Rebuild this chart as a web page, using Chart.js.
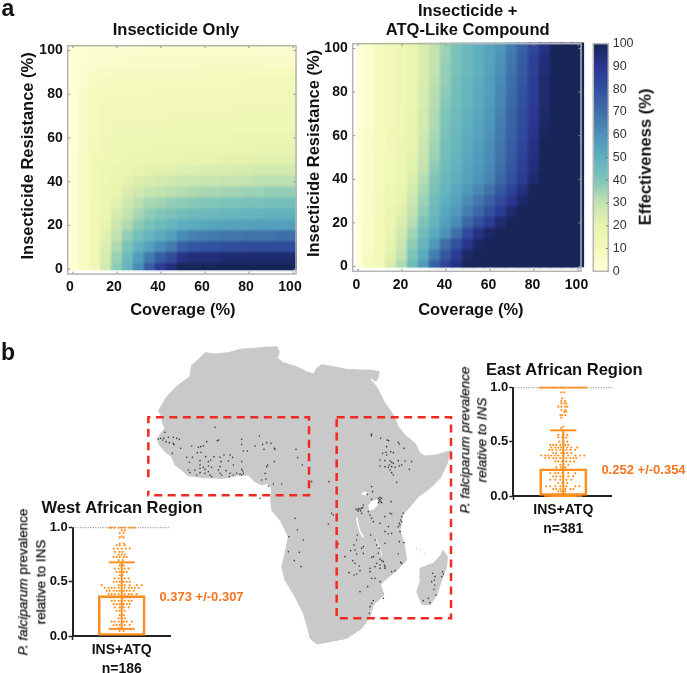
<!DOCTYPE html>
<html><head><meta charset="utf-8">
<script src="https://cdn.jsdelivr.net/npm/chart.js@4"></script>
<style>
html,body{margin:0;padding:0;background:#fff;width:687px;height:673px;overflow:hidden}
canvas{position:absolute;filter:blur(0.5px)}
.t{position:absolute;white-space:nowrap;font-family:"Liberation Sans",Arial,sans-serif;color:#111;transform:translate(-50%,-50%);line-height:1;filter:blur(0.3px)}
.r{transform:translate(-50%,-50%) rotate(-90deg)}
.m{-webkit-text-stroke:0.25px #111}
</style></head><body>
<div class="t" style="left:8px;top:8px;font-size:23px;font-weight:bold">a</div>
<div class="t" style="left:8px;top:352px;font-size:23px;font-weight:bold">b</div>
<div class="t r" style="left:645px;top:157px;font-size:16.5px;font-weight:bold">Effectiveness (%)</div>
<div class="t r m" style="left:23px;top:582px;font-size:13.5px"><i>P. falciparum</i> prevalence</div>
<div class="t r m" style="left:40.7px;top:582px;font-size:13.5px">relative to INS</div>
<div class="t r m" style="left:465px;top:440px;font-size:13.5px;font-style:italic">P. falciparum prevalence</div>
<div class="t r m" style="left:481.7px;top:440px;font-size:13.5px;font-style:italic">relative to INS</div>
<div class="t" style="left:201.5px;top:596px;font-size:13px;font-weight:bold;color:#f5741e">0.373 +/-0.307</div>
<div class="t" style="left:643.5px;top:469px;font-size:13px;font-weight:bold;color:#f5741e">0.252 +/-0.354</div>
<script>
// ---------- heat map axes ----------
const coverage = [0,5,10,15,20,25,30,35,40,45,50,55,60,65,70,75,80,85,90,95,100];
const resistance = [0,5,10,15,20,25,30,35,40,45,50,55,60,65,70,75,80,85,90,95,100];
const effectivenessStops = [[0,'#ffffd9'],[10,'#f3f9b9'],[20,'#e8f4ae'],[30,'#c4e3b0'],[40,'#7fc5b8'],[50,'#5fb0bf'],[60,'#4c93ba'],[70,'#3f6fa8'],[80,'#31519f'],[90,'#2b3590'],[100,'#172559']];

// effectiveness, one row per resistance level (0 to 100), one value per coverage level
const insecticideOnly = [
[2,7,12,26,38,48,62,76,88,94,100,100,100,100,100,100,100,100,100,100,100],
[2,7,12,25,36,45,57,67,76,82,92,94,95,95,96,96,96,96,96,96,96],
[2,7,12,24,33,41,49,56,62,67,75,78,79,80,81,81,82,82,82,82,82],
[2,7,12,22,30,37,43,48,52,56,62,65,66,67,68,68,69,69,69,70,70],
[2,7,12,20,28,33,38,42,45,48,51,52,53,54,54,55,55,56,56,56,56],
[2,7,12,18,25,30,34,38,40,42,44,45,46,46,47,47,48,48,49,49,49],
[2,7,12,17,22,27,31,34,35,37,38,39,40,40,41,41,42,42,43,43,43],
[2,7,11,16,20,24,27,29,30,31,32,33,34,34,35,35,36,36,37,37,37],
[2,7,11,15,18,21,23,25,26,27,28,28,29,29,30,30,30,31,31,31,31],
[2,7,11,14,16,18,20,21,22,22,23,23,24,24,24,25,25,26,26,26,26],
[2,7,11,13,15,16,17,18,18,19,19,20,20,20,21,21,21,22,22,22,22],
[2,6,10,12,14,14,15,15,16,16,16,17,17,17,18,18,18,19,19,19,19],
[2,6,10,12,13,13,13,14,14,14,14,15,15,15,15,16,16,16,16,16,16],
[2,6,9,11,12,12,12,12,12,13,13,13,13,13,14,14,14,14,14,14,14],
[2,6,9,11,11,11,11,11,11,12,12,12,12,12,12,12,13,13,13,13,13],
[2,5,8,10,10,10,10,10,11,11,11,11,11,11,11,12,12,12,12,12,12],
[1,5,8,9,9,9,9,9,10,10,10,10,10,10,10,11,11,11,11,11,11],
[1,4,7,8,8,8,8,8,8,9,9,9,9,9,9,9,10,10,10,10,10],
[1,3,5,6,7,7,7,7,7,7,7,7,8,8,8,8,8,8,8,8,8],
[1,2,3,4,4,5,5,5,5,5,5,5,6,6,6,6,6,6,5,5,5],
[1,2,3,3,3,3,3,4,4,4,4,4,4,4,4,4,4,4,3,3,3]];
const insecticideAtq = [
[1,8,12,24,33,45,58,75,85,92,100,100,100,100,100,100,100,100,100,100,100],
[1,7,11,22,30,41,52,66,78,88,97,100,100,100,100,100,100,100,100,100,100],
[1,6,10,20,28,38,48,58,70,80,90,98,100,100,100,100,100,100,100,100,100],
[1,6,10,18,26,35,44,52,60,70,82,92,98,100,100,100,100,100,100,100,100],
[1,6,10,17,24,32,41,48,56,62,72,80,88,96,100,100,100,100,100,100,100],
[1,5,10,16,22,30,38,46,53,58,66,72,80,88,96,100,100,100,100,100,100],
[1,5,10,15,20,28,36,44,50,55,62,68,74,82,90,97,100,100,100,100,100],
[1,5,9,14,19,26,34,42,48,53,58,63,69,77,85,93,100,100,100,100,100],
[1,5,9,13,17,23,32,40,46,50,55,59,64,72,80,88,96,100,100,100,100],
[1,5,9,13,17,22,30,38,45,49,54,58,63,70,78,86,94,100,100,100,100],
[1,5,9,12,16,21,29,36,44,48,53,57,62,69,77,85,93,100,100,100,100],
[1,5,8,12,16,20,28,35,43,47,52,56,61,68,76,84,92,100,100,100,100],
[1,5,8,12,15,20,27,34,42,47,51,55,60,67,75,83,91,99,100,100,100],
[1,4,8,11,15,19,26,33,41,46,50,54,59,66,74,82,90,98,100,100,100],
[1,4,8,11,15,19,26,33,40,45,49,53,58,65,73,81,89,97,100,100,100],
[1,4,8,11,14,18,25,32,39,44,48,52,57,64,72,80,88,96,100,100,100],
[1,4,8,11,14,18,25,32,38,44,48,52,56,63,71,79,88,96,100,100,100],
[1,4,8,11,14,18,24,31,37,43,47,51,56,62,70,78,87,96,100,100,100],
[1,4,8,11,14,18,24,30,37,42,46,50,55,61,69,77,86,95,100,100,100],
[1,4,8,11,14,18,24,30,36,42,46,50,54,60,68,76,86,94,100,100,100],
[1,4,8,11,14,18,24,30,36,42,46,50,54,58,66,74,84,92,100,100,100]];

// ---------- swarm plots ----------
const barLabel = 'INS+ATQ';
const westN = 'n=186', eastN = 'n=381';
const westMean = 0.373, westSd = 0.307;
const eastMean = 0.252, eastSd = 0.354;
const westLevels = [1,.975,.95,.92,.91,.853,.837,.807,.776,.752,.73,.70,.653,.623,.592,.561,.531,.50,.469,.445,.417,.387,.356,.325,.294,.264,.233,.193,.163,.132,.101,.071,.046];
const westSpread = [[-12,-10,-7,-3,0,3,7,10,13],[0,3],[-2,2],[0],[-2,2],[-2,2],[-5,-2,3],[-8,-4,0,4,8],[-7,-2,1],[-3,0,3],[-8,-5,-2,2,5],[-3,1],[-2,2],[-7,-3,3,7],[-5,-2,2,5],[-2,1],[-7,-3,3,7],[-8,-5,-2,2,5,8],[-20,-3,0,3,8,15,20],[-17,-13,-10,-7,-3,3,7,10,13,17],[-15,-12,-8,-5,-2,2,5,8,12],[-13,-10,-7,-3,3,7,10,15],[-12,-8,-5,2,5,8,12],[-10,-7,-3,0,3,7,10],[-8,-5,-2,2,5,8],[-7,-2,2,7],[-5,-2,3],[-2,2],[-3,0,3],[-10,-7,-3,2,5,10],[-8,-5,-2,3,8],[-3,0],[-2,2]];
const eastLevels = [1,.957,.902,.877,.856,.825,.794,.779,.748,.724,.641,.626,.564,.54,.503,.472,.448,.426,.396,.374,.35,.319,.288,.264,.242,.212,.181,.15,.12,.089,.064,.043,0];
const eastSpread = [[-23,-21,-19,-17,-15,-13,-11,-9,-7,-5,-3,-1,1,3,5,7,9,11,13,15,17,19,21,23],[-2,1],[-1],[-2,2],[-2,1,3],[-5,-2,2,4],[-2,2],[1,3],[-3,-1,2],[-2],[0],[-2],[-5,0,4],[-5,-1,3],[-4,0,4],[-13,-10,-7,-3,2,5],[-12,-8,-5,-2,4,8,14],[-14,-11,-7,-3,0,3,7,12],[-10,-7,-2,1,4,8],[-22,-18,-15,-12,-8,-5,0,5,12,17,21],[-18,-14,-10,-7,-3,3,7,10,13],[-8,-5,-1,3,7,11],[-3,0,5],[-7,-2,2],[-20,-15,-10,-7,-3,3,8,13,20],[-13,-8,-5,-1,5,12],[-10,-7,-3,0,5,10],[-13,-8,-3,3,8],[-5,-1,4],[-17,-13,-8,-3,0,3,12,16],[-10,-7,-3,2,7,10],[-5,-2,2],[-18,-16,-14,-12,-10,-8,-6,-4,-2,0,2,4,6,8,10,12,14,16,18]];

// ---------- map, in map units ----------
const coastX = [195,225,265,300,340,375,410,418,412,430,470,500,522,530,545,580,620,660,690,718,712,700,715,735,750,765,775,795,825,840,855,890,932,920,900,870,835,810,788,780,792,800,770,735,722,732,700,690,665,620,570,530,510,505,490,465,435,425,435,445,420,395,392,395,385,365,345,325,290,250,190,145,125,105,95,75,58,52,62,75,68,65,55,60,80,115,150,155];
const coastY = [38,42,38,28,25,22,20,35,55,68,80,95,102,85,74,80,88,90,90,95,120,125,150,190,210,235,260,285,310,340,348,345,332,375,415,445,470,500,525,570,610,660,692,720,735,765,795,830,865,895,905,912,895,870,820,770,720,680,640,590,540,510,475,450,430,435,425,405,407,415,413,407,390,375,350,335,315,297,280,265,250,230,210,205,170,135,110,75];
const madagascarX = [908,922,920,905,890,870,845,830,842,840,880,900];
const madagascarY = [630,650,680,720,765,795,792,755,720,685,670,648];
const victoriaX = [685,695,712,712,700,688];
const victoriaY = [498,485,480,495,508,510];
const albertX = [664,672,682,675];
const albertY = [462,456,460,466];
const tanganyikaX = [650,654,660,670];
const tanganyikaY = [532,555,575,592];
const malawiX = [708,716,722,726];
const malawiY = [598,615,632,650];
const suezX = [694,702,712];
const suezY = [118,126,136];
const islandX = [830,840,853];
const islandY = [625,630,640];
const westBoxX = [25,25,507,507,25,25];
const westBoxY = [412,232,232,466,466,452];
const eastBoxX = [590,933,933,590,590];
const eastBoxY = [232,232,835,835,232];
const siteX = [225,75,55,62,68,72,78,85,100,110,118,88,100,102,97,122,155,175,182,190,200,232,236,172,183,197,222,212,205,140,157,148,180,180,180,145,150,165,190,195,205,215,205,210,215,195,180,170,240,252,270,278,243,265,280,240,235,240,258,245,270,280,290,305,308,310,305,300,268,305,305,305,310,322,345,358,368,380,393,372,403,405,468,473,403,383,380,487,375,378,365,400,425,515,360,385,
694,694,695,722,742,746,775,778,792,740,728,738,752,760,740,720,735,750,755,748,760,775,795,815,720,735,745,755,765,778,785,808,750,755,760,770,695,698,682,695,753,
715,720,725,718,722,715,725,720,648,652,656,660,664,655,662,668,670,665,685,690,695,700,735,750,755,720,745,790,785,782,778,775,780,785,580,
692,735,745,755,780,652,650,642,632,645,650,665,670,615,595,705,710,735,718,715,700,695,670,638,645,658,660,650,627,642,690,690,710,720,725,730,733,720,735,705,720,735,755,765,775,778,792,782,785,705,720,695,683,660,700,695,690,688,730,
878,883,884,882,875,885,908,910,905,850,865,870,888,465,472,447,490,445,478,463,483,575,565,567];
const siteY = [262,277,297,295,300,295,305,292,292,295,298,308,310,314,340,325,318,322,320,318,305,302,300,338,337,350,350,360,365,352,352,367,362,375,385,390,398,390,382,388,378,382,395,405,410,400,398,405,352,345,345,352,365,363,375,380,390,400,392,405,400,405,400,388,393,400,405,402,410,365,298,313,333,333,318,288,313,308,310,328,325,328,328,353,365,375,380,375,400,417,420,432,432,425,475,438,
285,288,282,295,300,302,307,312,325,320,340,337,335,338,345,360,362,363,367,375,370,362,363,365,378,380,382,380,382,378,375,388,390,398,405,427,440,455,463,478,485,
475,478,475,482,485,488,488,472,507,510,506,508,505,513,513,503,495,520,515,525,535,545,530,520,522,550,560,520,530,540,550,560,555,545,525,
585,575,582,580,575,585,600,615,632,630,642,625,640,650,612,600,615,610,625,640,650,652,620,662,670,678,692,702,698,705,685,695,670,658,662,665,675,675,680,680,685,685,695,692,642,605,608,667,670,715,725,715,740,755,782,790,800,820,775,
700,720,735,748,725,710,695,702,710,782,775,788,765,535,570,590,600,635,637,662,680,520,552,425];

// ---------- helpers ----------
const FONT = '"Liberation Sans", Arial, sans-serif';
const ORANGE = '#ff8f1f';
const RED = '#f02a20';
Chart.defaults.font.family = FONT;
Chart.defaults.animation = false;
Chart.defaults.color = '#111';

function hexRgb(h){return [1,3,5].map(i=>parseInt(h.substr(i,2),16));}
function colorFor(v){
  const s = effectivenessStops;
  for(let i=1;i<s.length;i++){
    if(v<=s[i][0]){
      const f=(v-s[i-1][0])/(s[i][0]-s[i-1][0]),a=hexRgb(s[i-1][1]),b=hexRgb(s[i][1]);
      return 'rgb('+a.map((c,k)=>Math.round(c+(b[k]-c)*f)).join(',')+')';
    }
  }
  return s[s.length-1][1];
}
function pair(xs,ys){return xs.map((x,i)=>({x:x,y:ys[i]}));}
function newCanvas(left,top,w,h){
  const c=document.createElement('canvas');
  c.width=w;c.height=h;
  c.style.cssText='left:'+left+'px;top:'+top+'px;width:'+w+'px;height:'+h+'px';
  document.body.appendChild(c);
  return c.getContext('2d');
}
const base = {responsive:false,maintainAspectRatio:false,devicePixelRatio:1,events:[]};
// places the title and axis titles at their centres, via the chart's own layout objects
const placement = {id:'placement',afterLayout(chart,args,o){
  if(o.titleCenter!==undefined&&chart.titleBlock){chart.titleBlock.left=o.titleCenter-150;chart.titleBlock.right=o.titleCenter+150;}
  if(o.yShift){const y=chart.scales.y;y.top+=o.yShift;y.bottom+=o.yShift;}
  if(o.xShift){const x=chart.scales.x;x.left+=o.xShift;x.right+=o.xShift;}
}};
const innerTicks = {id:'innerTicks',afterDatasetsDraw(chart,args,o){
  if(!o.color)return;
  const g=chart.ctx,a=chart.chartArea,len=o.len||2.5;
  if(o.smooth){ // soften the cell edges only; the axis text stays as it is
    g.save();g.beginPath();g.rect(a.left,a.top,a.right-a.left,a.bottom-a.top);g.clip();
    g.filter='blur('+o.smooth+'px)';
    g.drawImage(g.canvas,a.left,a.top,a.right-a.left,a.bottom-a.top,a.left,a.top,a.right-a.left,a.bottom-a.top);
    g.restore();
  }
  g.save();g.strokeStyle=o.color;g.lineWidth=1;g.beginPath();
  if(chart.scales.x&&!o.colorbar){
    chart.scales.x.ticks.forEach(t=>{const p=chart.scales.x.getPixelForValue(t.value);
      g.moveTo(p,a.top);g.lineTo(p,a.top+len);g.moveTo(p,a.bottom);g.lineTo(p,a.bottom-len);});
  }
  chart.scales.y.ticks.forEach(t=>{const p=chart.scales.y.getPixelForValue(t.value);
    if(!o.colorbar){g.moveTo(a.left,p);g.lineTo(a.left+len,p);}
    g.moveTo(a.right,p);g.lineTo(a.right-len,p);});
  g.stroke();
  g.strokeStyle=o.frame;g.lineWidth=1.5;g.strokeRect(a.left,a.top,a.right-a.left,a.bottom-a.top);
  g.restore();
}};

// ---------- heat maps ----------
function heat(ctx,matrix,cfg){
  new Chart(ctx,{type:'bar',
    data:{datasets:matrix.map((row,r)=>({
      data:row.map((v,c)=>({x:coverage[c],y:[resistance[r]-2.5,resistance[r]+2.5]})),
      backgroundColor:row.map(colorFor),
      borderWidth:0,inflateAmount:0.6,grouped:false,barPercentage:1,categoryPercentage:1
    }))},
    options:{...base,
      layout:{autoPadding:false,padding:{right:cfg.padRight,left:0,top:0,bottom:0}},
      plugins:{legend:{display:false},tooltip:{enabled:false},
        title:{display:true,text:cfg.title,font:{size:16.5,weight:'bold',lineHeight:cfg.titleLh},color:'#111',padding:cfg.titlePad},
        placement:{titleCenter:cfg.titleCenter,yShift:cfg.yShift,xShift:cfg.xShift},
        innerTicks:{color:'#888',frame:'#b4b4b4',smooth:1}},
      scales:{
        x:{type:'linear',min:-2.41,max:101.36,offset:false,
          grid:{display:false,tickLength:0},border:{display:false},
          ticks:{stepSize:20,includeBounds:false,padding:5,labelOffset:cfg.labelOffset,maxRotation:0,autoSkip:false,font:{size:14,weight:'bold'},color:'#111',callback:v=>v},
          title:{display:true,text:'Coverage (%)',font:{size:16.5,weight:'bold'},color:'#111',padding:{top:0,bottom:cfg.xTitlePad}},
          afterFit(s){s.height=cfg.xH;}},
        y:{min:-2.2,max:102.2,
          grid:{display:false,tickLength:0},border:{display:false},
          ticks:{stepSize:20,includeBounds:false,padding:5,font:{size:14,weight:'bold'},color:'#111',callback:v=>v},
          title:{display:true,text:'Insecticide Resistance (%)',font:{size:16.5,weight:'bold'},color:'#111',padding:{top:cfg.yTitlePad,bottom:cfg.yTitlePad}},
          afterFit(s){s.width=cfg.yW;}}
      }},
    plugins:[placement,innerTicks]});
}
function swarm(ctx,levels,spread,mean,sd,nLabel,cfg){
  const dots=[];
  levels.forEach((v,i)=>spread[i].forEach(o=>dots.push({x:o,y:v})));
  const hi=mean+sd, lo=Math.max(0,mean-sd);
  const line=(d,w,extra)=>Object.assign({type:'scatter',showLine:true,data:d,borderColor:ORANGE,borderWidth:w,pointRadius:0,clip:false},extra||{});
  new Chart(ctx,{type:'bar',
    data:{datasets:[
      {type:'scatter',data:dots,backgroundColor:ORANGE,borderWidth:0,pointRadius:1.1,clip:false,order:1},
      line([{x:0,y:lo},{x:0,y:hi}],2,{order:2}),
      line([{x:-cfg.cap,y:hi},{x:cfg.cap,y:hi}],2,{order:2}),
      line([{x:-cfg.cap,y:lo},{x:cfg.cap,y:lo}],2,{order:2}),
      {type:'bar',data:[{x:0,y:mean}],backgroundColor:'rgba(0,0,0,0)',borderColor:ORANGE,borderWidth:2,borderSkipped:false,barThickness:cfg.barW,order:3},
      line([{x:cfg.xMin,y:1},{x:cfg.xMax,y:1}],1,{borderColor:'#777',borderDash:[1,1.5],order:4})
    ]},
    options:{...base,
      layout:{autoPadding:false,padding:{right:cfg.padRight,left:0,top:0,bottom:0}},
      plugins:{legend:{display:false},tooltip:{enabled:false},
        title:{display:true,text:cfg.title,font:{size:16.5,weight:'bold'},color:'#111',padding:cfg.titlePad},
        placement:{titleCenter:cfg.titleCenter}},
      scales:{
        x:{type:'linear',min:cfg.xMin,max:cfg.xMax,offset:false,
          afterBuildTicks(s){s.ticks=[{value:0}];},
          grid:{drawOnChartArea:false,tickLength:4,tickWidth:1.5,color:'#222'},
          border:{color:'#222',width:2},
          ticks:{autoSkip:false,maxRotation:0,padding:0,font:{size:14,weight:'bold',lineHeight:1.38},color:'#111',callback:()=>[barLabel,nLabel]},
          afterFit(s){s.height=cfg.xH;}},
        y:{min:0,max:1,
          grid:{drawOnChartArea:false,tickLength:4,tickWidth:1.5,color:'#222'},
          border:{color:'#222',width:2},
          ticks:{stepSize:.5,padding:1,font:{size:13,weight:'bold'},color:'#111',callback:v=>Number(v).toFixed(1)},
          afterFit(s){s.width=cfg.yW;}}
      }},
    plugins:[placement]});
}

// map (lowest layer)
const mapFill=(xs,ys,color,order)=>({type:'scatter',showLine:true,data:pair(xs,ys),backgroundColor:color,borderColor:color,borderWidth:1,fill:'shape',pointRadius:0,order:order});
const mapLine=(xs,ys,color,w,order,dash)=>({type:'scatter',showLine:true,data:pair(xs,ys),borderColor:color,borderWidth:w,borderDash:dash||[],pointRadius:0,order:order,clip:false});
new Chart(newCanvas(140,340,320,320),{type:'scatter',
  data:{datasets:[
    mapLine(westBoxX,westBoxY,RED,2.5,1,[8,5.5]),
    mapLine(eastBoxX,eastBoxY,RED,2.5,1,[8,5.5]),
    {type:'scatter',data:pair(siteX,siteY),backgroundColor:'#3a3a3a',borderWidth:0,pointRadius:0.8,order:2},
    mapFill(victoriaX,victoriaY,'#ffffff',3),
    mapFill(albertX,albertY,'#ffffff',3),
    mapLine(tanganyikaX,tanganyikaY,'#ffffff',1.5,3),
    mapLine(malawiX,malawiY,'#f4f4f4',1,3),
    mapLine(suezX,suezY,'#ffffff',1.5,3),
    mapFill(madagascarX,madagascarY,'#c9c9c9',4),
    mapFill(coastX,coastY,'#c9c9c9',5),
    {type:'scatter',data:pair(islandX,islandY),backgroundColor:'#d6d6d6',borderWidth:0,pointRadius:0.8,order:5}
  ]},
  options:{...base,layout:{autoPadding:false,padding:0},
    plugins:{legend:{display:false},tooltip:{enabled:false}},
    scales:{x:{type:'linear',min:0,max:960,display:false},y:{type:'linear',min:0,max:960,reverse:true,display:false}}}
});

heat(newCanvas(0,0,340,330),insecticideOnly,{title:'Insecticide Only',titleLh:1.2,titlePad:{top:20.1,bottom:5.8},titleCenter:176,
  padRight:44,xH:56,yW:67.7,labelOffset:-3,xTitlePad:10,yTitlePad:18.5,yShift:-4,xShift:1});
heat(newCanvas(285,0,340,330),insecticideAtq,{title:['Insecticide +','ATQ-Like Compound'],titleLh:1.15,titlePad:{top:1.5,bottom:4.25},titleCenter:182.7,
  padRight:44,xH:58.7,yW:67.7,labelOffset:-1.5,xTitlePad:10,yTitlePad:20,yShift:-4,xShift:4});

// colour bar
new Chart(newCanvas(580,30,107,260),{type:'bar',
  data:{labels:['Effectiveness'],datasets:[{data:[[0,100]],borderWidth:0,barPercentage:1,categoryPercentage:1,
    backgroundColor(c){
      const a=c.chart.chartArea; if(!a)return '#888';
      const g=c.chart.ctx.createLinearGradient(0,a.bottom,0,a.top);
      effectivenessStops.forEach(s=>g.addColorStop(s[0]/100,s[1]));
      return g;
    }}]},
  options:{...base,layout:{autoPadding:false,padding:{left:13.3,right:0,top:13.7,bottom:18.7}},
    plugins:{legend:{display:false},tooltip:{enabled:false},innerTicks:{color:'#555',frame:'#b4b4b4',colorbar:true,len:2}},
    scales:{x:{display:false},
      y:{position:'right',min:0,max:100,grid:{display:false,tickLength:0},border:{display:false},
        ticks:{stepSize:10,padding:4.4,font:{size:12.5},color:'#333'},
        afterFit(s){s.width=78.7;}}}
  },plugins:[innerTicks]});

swarm(newCanvas(0,480,260,193),westLevels,westSpread,westMean,westSd,westN,{title:'West African Region',titlePad:{top:18.1,bottom:9.8},titleCenter:122,
  xMin:-49,xMax:48.3,barW:47,cap:13,padRight:90,xH:37,yW:72.7});
swarm(newCanvas(450,345,237,195),eastLevels,eastSpread,eastMean,eastSd,eastN,{title:'East African Region',titlePad:{top:15.1,bottom:7.8},titleCenter:114.3,
  xMin:-50,xMax:48.4,barW:47.4,cap:13,padRight:75.3,xH:44,yW:63.3});
</script>
</body></html>
